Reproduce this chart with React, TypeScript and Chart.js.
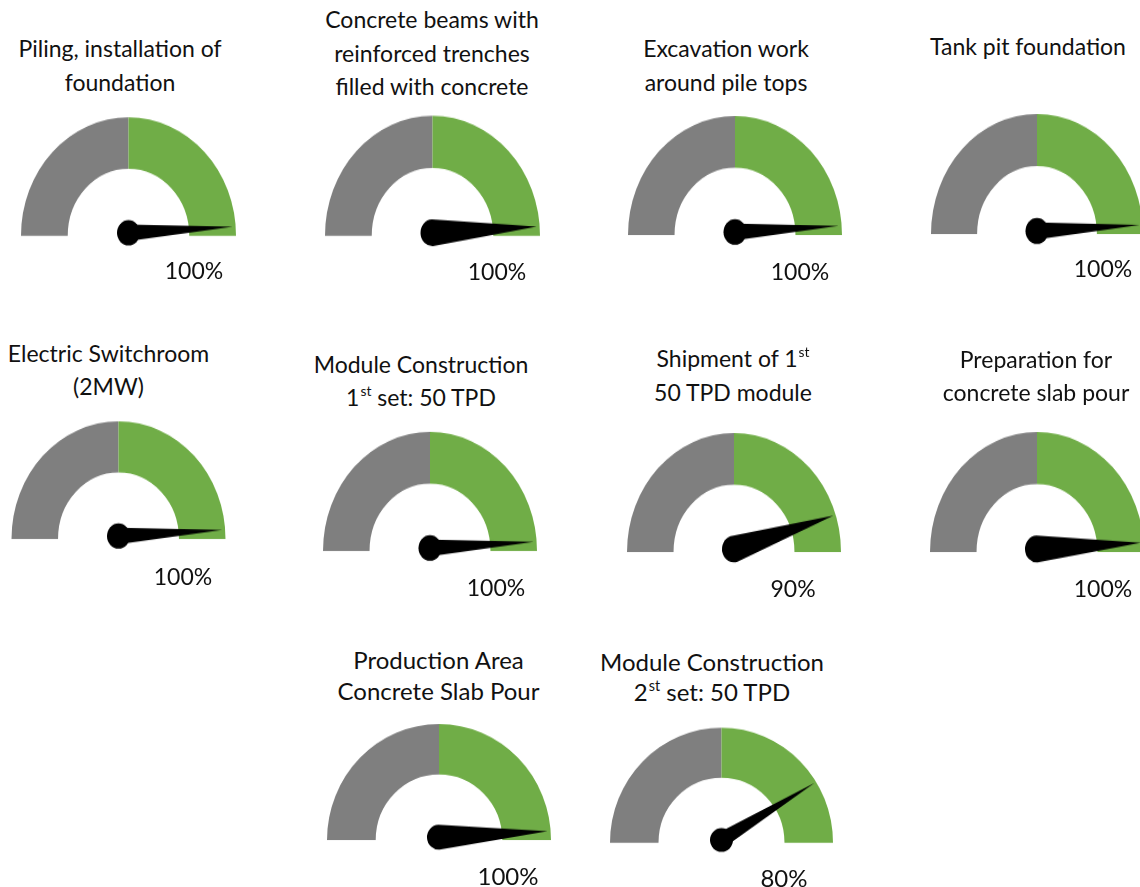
import React, { useEffect, useRef } from 'react';
import { Chart, ArcElement, DoughnutController } from 'chart.js';

Chart.register(ArcElement, DoughnutController);

// ---------- data ----------
const taskTitles: string[][] = [
  ['Piling, installation of', 'foundation'],
  ['Concrete beams with', 'reinforced trenches', 'filled with concrete'],
  ['Excavation work', 'around pile tops'],
  ['Tank pit foundation'],
  ['Electric Switchroom', '(2MW)'],
  ['Module Construction', '1^st^ set: 50 TPD'],
  ['Shipment of 1^st^', '50 TPD module'],
  ['Preparation for', 'concrete slab pour'],
  ['Production Area', 'Concrete Slab Pour'],
  ['Module Construction', '2^st^ set: 50 TPD'],
];
const progress = [100, 100, 100, 100, 100, 100, 90, 100, 100, 80];
const bandLabels = ['First half', 'Second half'];
const bandValues = [50, 50];

// ---------- layout / style ----------
const bandColors = ['#7f7f7f', '#70ad47'];
const gaugeCx = [128.5, 432.5, 735, 1037, 118.3, 430.5, 734, 1037, 439, 721];
const gaugeBase = [235, 235, 235, 234, 539, 551, 552, 552, 840, 842];
const gaugeRx = [107.5, 107.5, 107, 106, 107.3, 107.2, 107, 107, 112, 111.5];
const gaugeRy = [118.5, 120, 119, 120, 118, 119.3, 119, 120, 116, 115];
const needleStyle = ['thin', 'thick', 'thin', 'thin', 'thin', 'thin', 'thick', 'thick', 'thick', 'thin'];
const titleX = [120, 432, 726, 1028, 108.5, 421, 733, 1036, 438.5, 712];
const titleY = [48, 20, 48, 46, 353, 364, 358, 359, 659, 662];
const titleGap = [34, 33.5, 34, 34, 33, 33, 34, 33, 31, 30];
const titleSize = [23, 23, 23, 23, 23, 23, 23, 23, 24, 24];
const pctX = [194, 497, 800, 1103, 183, 496, 793, 1103, 508, 784];
const pctY = [270, 271, 271, 268, 576, 587, 588, 588, 876, 878];

const FONT = 'Lato, "Open Sans", sans-serif';
const PAD = 4;
const PAD_TOP = 4;
const PAD_BOTTOM = 20;

const needlePlugin = {
  id: 'gaugeNeedle',
  afterDatasetsDraw(chart: any, _args: any, opts: any) {
    const meta = chart.getDatasetMeta(0);
    const arc = meta.data[0];
    if (!arc) return;
    const { x, y, outerRadius } = arc.getProps(['x', 'y', 'outerRadius'], true);
    const v = opts.value / 100;
    const deg = opts.offset + (1 - v) * 180 * opts.sweep;
    const a = (-deg * Math.PI) / 180;
    const px = x;
    const py = y - opts.lift;
    const len = outerRadius * opts.length;
    const tx = px + Math.cos(a) * len;
    const ty = py + Math.sin(a) * len;
    const nx = -Math.sin(a);
    const ny = Math.cos(a);
    const ctx = chart.ctx;
    ctx.save();
    ctx.fillStyle = '#000';
    if (opts.style === 'thick') {
      const hw = 12;
      ctx.beginPath();
      ctx.moveTo(px + nx * hw, py + ny * hw);
      ctx.lineTo(tx, ty);
      ctx.lineTo(px - nx * hw, py - ny * hw);
      ctx.arc(px, py, hw, a - Math.PI / 2, a + Math.PI / 2, true);
      ctx.closePath();
      ctx.fill();
    } else {
      const hw = 7.5;
      ctx.beginPath();
      ctx.moveTo(px + nx * hw, py + ny * hw);
      ctx.lineTo(tx, ty);
      ctx.lineTo(px - nx * hw, py - ny * hw);
      ctx.closePath();
      ctx.fill();
      ctx.beginPath();
      ctx.arc(px, py, 11.5, 0, Math.PI * 2);
      ctx.fill();
    }
    ctx.restore();
  },
};

function Gauge({ i }: { i: number }) {
  const ref = useRef<HTMLCanvasElement | null>(null);
  const rx = gaugeRx[i];
  const w = Math.round(2 * rx + 2 * PAD);
  const h = Math.round(rx + PAD_TOP + PAD_BOTTOM);
  const sy = gaugeRy[i] / rx;

  useEffect(() => {
    if (!ref.current) return;
    const chart = new Chart(ref.current, {
      type: 'doughnut',
      data: {
        labels: bandLabels,
        datasets: [
          {
            data: bandValues,
            backgroundColor: bandColors,
            borderWidth: 0,
            hoverOffset: 0,
          },
        ],
      },
      options: {
        animation: false,
        responsive: false,
        devicePixelRatio: 1,
        rotation: -90,
        circumference: 180,
        cutout: '56.5%',
        events: [],
        layout: { padding: { left: PAD, right: PAD, top: PAD_TOP, bottom: PAD_BOTTOM } },
        plugins: {
          legend: { display: false },
          tooltip: { enabled: false },
          gaugeNeedle: {
            value: progress[i],
            style: needleStyle[i],
            offset: 3,
            sweep: 0.77,
            lift: 2.7,
            length: 0.97,
          },
        } as any,
      },
      plugins: [needlePlugin],
    });
    return () => chart.destroy();
  }, [i]);

  const left = gaugeCx[i] - rx - PAD;
  const top = gaugeBase[i] - (PAD_TOP + rx);
  return (
    <canvas
      ref={ref}
      width={w}
      height={h}
      style={{
        position: 'absolute',
        left,
        top,
        width: w,
        height: h,
        transform: `scaleY(${sy})`,
        transformOrigin: `center ${PAD_TOP + rx}px`,
      }}
    />
  );
}

function renderLine(text: string) {
  const parts = text.split(/\^(.+?)\^/);
  return parts.map((p, k) =>
    k % 2 === 1 ? (
      <span key={k} style={{ fontSize: '0.6em', position: 'relative', top: '-0.7em', marginLeft: '1px' }}>
        {p}
      </span>
    ) : (
      <span key={k}>{p}</span>
    )
  );
}

export default function App() {
  return (
    <div
      style={{
        position: 'absolute',
        left: 0,
        top: 0,
        width: 1140,
        height: 887,
        overflow: 'hidden',
        background: '#fff',
        fontFamily: FONT,
        color: '#111',
      }}
    >
      {taskTitles.map((lines, i) => (
        <React.Fragment key={i}>
          {lines.map((ln, j) => {
            const lh = titleGap[i];
            return (
              <div
                key={j}
                style={{
                  position: 'absolute',
                  left: titleX[i] - 200,
                  width: 400,
                  top: titleY[i] + j * lh - lh / 2,
                  height: lh,
                  lineHeight: `${lh}px`,
                  fontSize: titleSize[i],
                  textAlign: 'center',
                  whiteSpace: 'nowrap',
                }}
              >
                {renderLine(ln)}
              </div>
            );
          })}
          <Gauge i={i} />
          <div
            style={{
              position: 'absolute',
              left: pctX[i] - 60,
              width: 120,
              top: pctY[i] - 17,
              height: 34,
              lineHeight: '34px',
              fontSize: titleSize[i],
              textAlign: 'center',
              whiteSpace: 'nowrap',
            }}
          >
            {progress[i]}%
          </div>
        </React.Fragment>
      ))}
    </div>
  );
}
